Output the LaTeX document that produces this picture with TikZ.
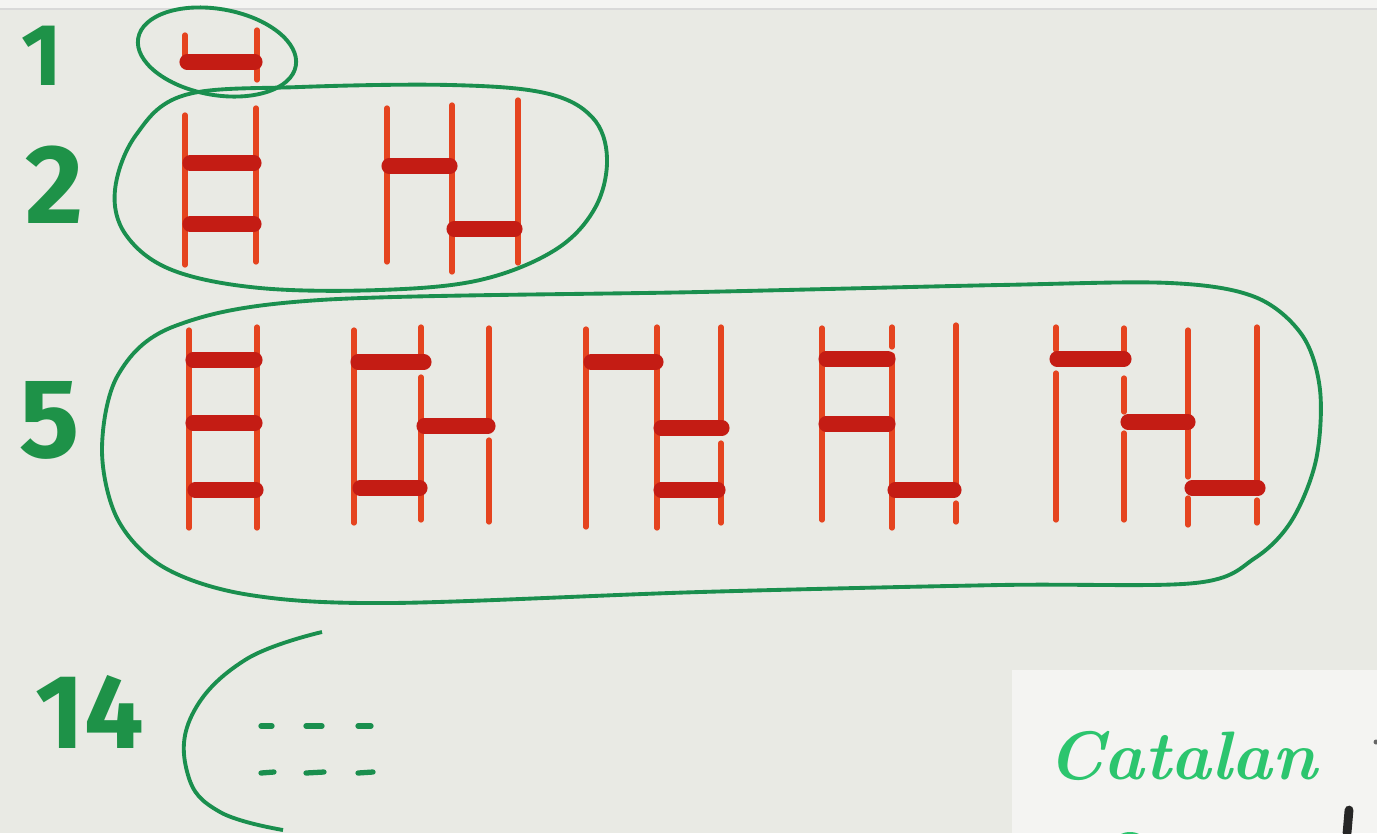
\documentclass[tikz,border=0pt]{standalone}
\usepackage{fontspec}
\newfontfamily\markerfont{Fira Sans}
\definecolor{board}{HTML}{E9EAE4}
\definecolor{paper}{HTML}{F4F4F2}
\definecolor{railred}{HTML}{E5441F}
\definecolor{rungred}{HTML}{C41C14}
\definecolor{loopgreen}{HTML}{1A8F4E}
\definecolor{numgreen}{HTML}{1E9248}
\definecolor{catgreen}{HTML}{2CC56E}

\begin{document}
\begin{tikzpicture}[x=0.1mm,y=-0.1mm,
 rail/.style={draw=railred,line width=1.5pt,line cap=round},
 rung/.style={draw=rungred,line width=4.3pt,line cap=round},
 group/.style={draw=loopgreen,line width=1.1pt},
 dashmark/.style={draw=loopgreen,line width=1.5pt,line cap=round},
 num/.style={text=numgreen,inner sep=0pt,font=\markerfont\bfseries\fontsize{32}{32}\selectfont}]
\useasboundingbox (0,0) rectangle (1377,833);
\fill[board] (0,0) rectangle (1377,833);
\fill[paper] (0,0) rectangle (1377,9);
\draw[black!15,line width=.4pt] (0,9) -- (1377,9);
\fill[paper] (1012,670) rectangle (1377,833);
% rails
\foreach \x/\ya/\yb in {185/35/65,257/30/80,
 185/115/265,256/108/262,387/108/262,452/105/272,518/100/263,
 189/330/528,257/327/528,
 354/330/523,421/327/363,421/377/520,489/328/427,489/440/522,
 586/329/527,657/327/528,721/327/420,721/443/523,
 822/328/520,892/327/347,892/355/528,956/325/488,956/503/522,
 1056/327/350,1056/373/520,1124/328/352,1124/378/412,1124/433/520,
 1188/330/477,1188/498/525,1257/327/482,1257/500/523}
  \draw[rail] (\x,\ya) -- (\x,\yb);
% rungs
\foreach \xa/\xb/\y in {187/255/62,
 190/254/163,190/254/224,389/450/166,454/515/229,
 193/255/360,193/255/423,195/256/490,
 358/424/362,424/488/426,360/420/488,
 591/656/362,661/722/428,661/718/490,
 826/888/359,826/888/424,895/954/490,
 1057/1124/359,1128/1188/422,1192/1258/488}
  \draw[rung] (\xa,\y) -- (\xb,\y);
% groups
\draw[group,rotate around={-10:(217,52)}] (217,52) ellipse [x radius=80,y radius=43];
\draw[group] plot[smooth cycle,tension=.6] coordinates {(185,95) (300,87) (450,85) (545,93) (592,117)
 (607,158) (595,208) (555,250) (480,280) (380,290) (260,288) (172,270) (126,235) (115,190) (136,135)};
\draw[group] plot[smooth cycle,tension=.55] coordinates {(175,326) (320,300) (700,292) (1000,285) (1170,283)
 (1255,297) (1302,335) (1320,390) (1316,460) (1292,520) (1255,558) (1195,583) (1000,585) (700,592)
 (390,603) (250,595) (165,568) (118,520) (102,450) (118,375)};
\draw[group] plot[smooth,tension=.7] coordinates {(322,632) (245,660) (192,715) (188,775) (220,812) (283,830)};
\foreach \x/\xb in {261/272,306/322,358/371}{
  \draw[dashmark] (\x,726) -- (\xb,726);
  \draw[dashmark] (\x,773) -- (\xb+2,772);
}
% labels
\node[num,font=\markerfont\bfseries\fontsize{25}{25}\selectfont] (one) at (42,56) {1};
\node[num] (two) at (55,185) {2};
\node[num] (five) at (50,420) {5};
\node[num,font=\markerfont\bfseries\fontsize{30}{30}\selectfont] (fourteen) at (90,712) {14};
\node[text=catgreen,inner sep=0pt,anchor=base,font=\bfseries\itshape\fontsize{19.5}{20}\selectfont] (catalan) at (1182,779) {Catalan};
% cut-off marks at the edge
\fill[catgreen] (1130,840) ellipse [x radius=14,y radius=8];
\draw[black!85,line width=2.5pt,line cap=round] (1349,810) -- (1347,833);
\fill[black!60] (1376,742) circle (2.5);
\end{tikzpicture}
\end{document}
